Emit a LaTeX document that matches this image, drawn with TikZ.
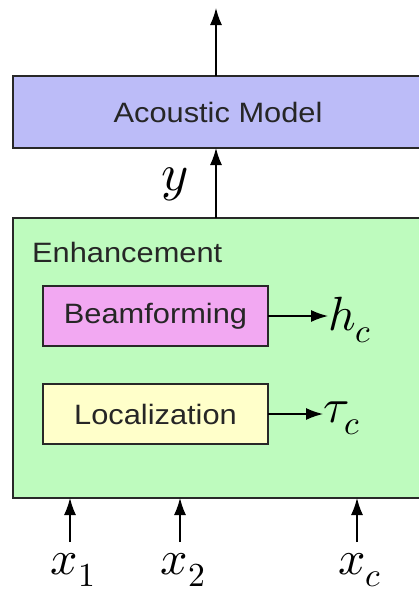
\documentclass[tikz,border=0pt]{standalone}
\usepackage{fontspec}
\usepackage{unicode-math}
\setmainfont{Liberation Sans}
\usetikzlibrary{arrows.meta}
\definecolor{amcol}{RGB}{188,188,248}
\definecolor{enhcol}{RGB}{190,251,190}
\definecolor{bfcol}{RGB}{242,168,242}
\definecolor{loccol}{RGB}{255,255,202}
\definecolor{edgecol}{RGB}{40,40,40}
\tikzset{
  blockbox/.style={draw=edgecol, line width=1.5pt, rectangle, inner sep=0pt, outer sep=0pt, anchor=north west},
  txt/.style={font=\fontsize{28}{32}\selectfont, text=black!85, inner sep=0pt},
  mathlab/.style={font=\fontsize{48}{52}\selectfont, inner sep=0pt},
  arr/.style={-{Latex[length=17pt,width=12pt]}, line width=1.4pt, draw=black}
}
\begin{document}
\begin{tikzpicture}[x=1pt,y=1pt]
\useasboundingbox (0,0) rectangle (419,-590);
\clip (0,0) rectangle (419,-590);
% boxes
\node[blockbox, fill=amcol, minimum width=410pt, minimum height=72pt] (am) at (13,-76) {};
\node[txt] (amlab) at (218,-112) {\scalebox{1.1}[1]{Acoustic Model}};
\node[blockbox, fill=enhcol, minimum width=410pt, minimum height=280pt] (enh) at (13,-218) {};
\node[txt, anchor=west] (enhlab) at (32,-252) {\scalebox{1.1}[1]{Enhancement}};
\node[blockbox, fill=bfcol, minimum width=225pt, minimum height=60pt] (bf) at (43,-286) {};
\node[txt] (bflab) at (155.5,-316) {\scalebox{1.1}[1]{Beamforming}};
\node[blockbox, fill=loccol, minimum width=225pt, minimum height=60pt] (loc) at (43,-384) {};
\node[txt] (loclab) at (155.5,-414) {\scalebox{1.1}[1]{Localization}};
% labels
\node[mathlab, anchor=west] (hc) at (328,-320) {$h_c$};
\node[mathlab, anchor=west] (tc) at (323,-418) {$\tau_c$};
\node[mathlab] (ylab) at (175,-184) {\fontsize{52}{56}\selectfont$y$};
\node[mathlab, anchor=north] (x1) at (73,-553) {$x_1$};
\node[mathlab, anchor=north] (x2) at (183,-553) {$x_2$};
\node[mathlab, anchor=north] (xc) at (360,-553) {$x_c$};
% coordinates
\coordinate (topc) at (216,-8);
\coordinate (s1) at (70,-542);
\coordinate (s2) at (180,-542);
\coordinate (sc) at (357,-542);
% connectors
\draw[arr] (am.north -| topc) -- (topc);
\draw[arr] (enh.north -| topc) -- (am.south -| topc);
\draw[arr] (bf.east) -- (hc.west |- bf.east);
\draw[arr] (loc.east) -- (tc.west |- loc.east);
\draw[arr] (s1) -- (s1 |- enh.south);
\draw[arr] (s2) -- (s2 |- enh.south);
\draw[arr] (sc) -- (sc |- enh.south);
\end{tikzpicture}
\end{document}
